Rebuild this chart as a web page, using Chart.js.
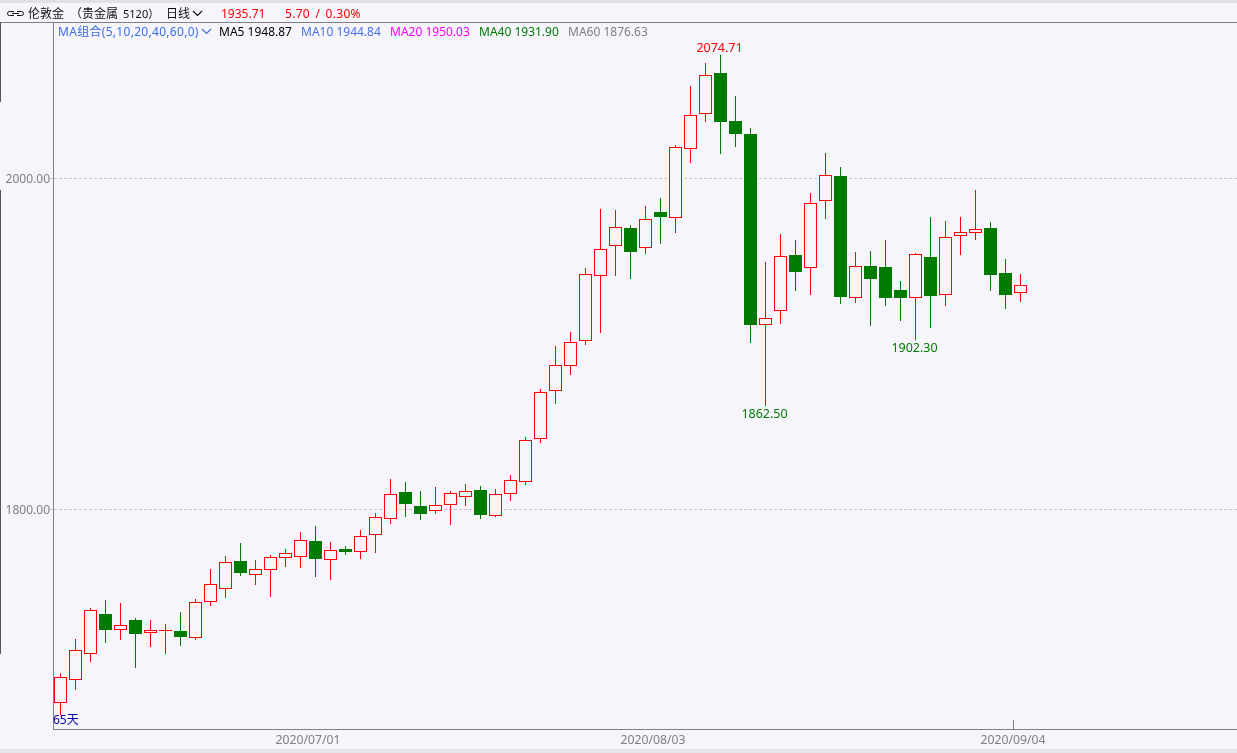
<!DOCTYPE html>
<html>
<head>
<meta charset="utf-8">
<title>伦敦金 日线</title>
<script src="https://cdn.jsdelivr.net/npm/chart.js@4/dist/chart.umd.min.js"></script>
<style>
  html, body { margin: 0; padding: 0; background: #f5f5fb; overflow: hidden; }
  #wrap { position: relative; width: 1237px; height: 753px; }
  canvas { position: absolute; left: 0; top: 0; }
  .txt { position: absolute; white-space: nowrap; font: 12px/16px "Noto Sans", "Noto Sans CJK SC", sans-serif; }
  .bar { position: absolute; }
</style>
</head>
<body>
<div id="wrap">
  <canvas id="kline" width="1237" height="753"></canvas>

  <div class="bar" style="left:0;top:0;width:1237px;height:3px;background:#e0e0e5"></div>
  <div class="bar" style="left:0;top:749px;width:1237px;height:4px;background:#e3e3e8"></div>
  <div class="bar" style="left:0;top:22px;width:1237px;height:1px;background:#808080"></div>
  <div class="bar" style="left:0;top:22px;width:1px;height:80px;background:#555"></div>
  <div class="bar" style="left:0;top:190px;width:1px;height:464px;background:#555"></div>

  <svg style="position:absolute;left:7px;top:10px" width="17" height="7" fill="none" stroke="#111" stroke-width="1">
    <path d="M7 1.5H2.5a2 2 0 0 0 0 4H7M10 1.5h4.5a2 2 0 0 1 0 4H10M5 3.5h7"/>
  </svg>
  <span class="txt" style="left:28px;top:6px;color:#111">伦敦金</span>
  <span class="txt" style="left:70px;top:6px;color:#111">（贵金属</span>
  <span class="txt" style="left:123px;top:6px;color:#111;font-size:11px">5120）</span>
  <span class="txt" style="left:166px;top:6px;color:#111">日线</span>
  <svg style="position:absolute;left:192px;top:10px" width="11" height="7" fill="none" stroke="#111" stroke-width="1.2">
    <path d="M1 1l4.5 4.5L10 1"/>
  </svg>
  <span class="txt" style="left:221px;top:6px;color:#ff0000">1935.71</span>
  <span class="txt" style="left:285px;top:6px;color:#ff0000;word-spacing:2px;letter-spacing:.3px">5.70 / 0.30%</span>

  <span class="txt" style="left:58px;top:24px;color:#3c6ee6;letter-spacing:.3px">MA组合(5,10,20,40,60,0)</span>
  <svg style="position:absolute;left:201px;top:28px" width="11" height="7" fill="none" stroke="#3c6ee6" stroke-width="1.2">
    <path d="M1 1l4.5 4.5L10 1"/>
  </svg>
  <span class="txt" style="left:219px;top:24px;color:#000">MA5 1948.87</span>
  <span class="txt" style="left:301px;top:24px;color:#4a70e8">MA10 1944.84</span>
  <span class="txt" style="left:390px;top:24px;color:#ff00ff">MA20 1950.03</span>
  <span class="txt" style="left:479px;top:24px;color:#007a00">MA40 1931.90</span>
  <span class="txt" style="left:568px;top:24px;color:#808080">MA60 1876.63</span>

  <span class="txt" style="left:53px;top:712px;color:#0000a0">65天</span>
</div>

<script>
const dates = [
  "2020/06/08","2020/06/09","2020/06/10","2020/06/11","2020/06/12","2020/06/15","2020/06/16","2020/06/17","2020/06/18","2020/06/19",
  "2020/06/22","2020/06/23","2020/06/24","2020/06/25","2020/06/26","2020/06/29","2020/06/30","2020/07/01","2020/07/02","2020/07/03",
  "2020/07/06","2020/07/07","2020/07/08","2020/07/09","2020/07/10","2020/07/13","2020/07/14","2020/07/15","2020/07/16","2020/07/17",
  "2020/07/20","2020/07/21","2020/07/22","2020/07/23","2020/07/24","2020/07/27","2020/07/28","2020/07/29","2020/07/30","2020/07/31",
  "2020/08/03","2020/08/04","2020/08/05","2020/08/06","2020/08/07","2020/08/10","2020/08/11","2020/08/12","2020/08/13","2020/08/14",
  "2020/08/17","2020/08/18","2020/08/19","2020/08/20","2020/08/21","2020/08/24","2020/08/25","2020/08/26","2020/08/27","2020/08/28",
  "2020/08/31","2020/09/01","2020/09/02","2020/09/03","2020/09/04"
];
const opens = [
  1683.08,1696.98,1712.69,1736.86,1727.19,1733.24,1725.38,1726.59,1726.59,1722.36,
  1744.11,1751.96,1768.88,1760.42,1763.44,1770.69,1771.30,1780.97,1769.49,1776.13,
  1774.32,1784.59,1794.26,1810.57,1802.11,1799.09,1802.72,1807.55,1811.78,1796.07,
  1809.36,1816.61,1842.60,1871.61,1886.71,1901.82,1941.09,1959.22,1970.09,1958.01,
  1979.76,1976.13,2017.82,2038.97,2063.74,2034.74,2026.89,1911.48,1919.94,1953.78,
  1945.92,1986.41,2001.51,1927.80,1947.13,1946.53,1932.63,1927.80,1952.57,1929.61,
  1965.26,1967.07,1970.09,1942.90,1930.82
];
const highs = [
  1701.21,1721.76,1740.49,1745.32,1743.51,1734.44,1733.24,1730.82,1738.07,1745.92,
  1764.05,1771.90,1779.76,1769.49,1772.51,1776.13,1786.40,1790.03,1780.36,1777.95,
  1787.61,1797.89,1818.43,1816.61,1811.18,1813.59,1811.18,1815.40,1814.20,1812.38,
  1820.84,1843.80,1872.81,1898.80,1907.25,1945.92,1981.57,1980.97,1971.90,1983.38,
  1988.22,2020.24,2055.89,2069.79,2074.71,2049.85,2030.51,1949.55,1966.47,1962.84,
  1991.24,2015.41,2006.94,1955.59,1956.20,1962.84,1938.07,1954.99,1976.74,1974.32,
  1976.74,1993.05,1973.72,1951.36,1942.30
];
const lows = [
  1675.83,1690.94,1707.86,1719.34,1721.15,1704.23,1716.92,1712.69,1717.53,1721.15,
  1741.69,1746.53,1759.82,1754.38,1747.13,1765.25,1764.65,1759.21,1757.40,1772.51,
  1770.09,1773.72,1791.24,1795.47,1793.66,1797.28,1790.63,1802.11,1794.26,1795.47,
  1805.14,1814.80,1840.18,1863.74,1881.27,1899.40,1906.65,1941.09,1939.28,1954.38,
  1960.42,1967.07,2009.36,2034.14,2014.80,2019.03,1900.61,1862.50,1912.09,1932.03,
  1929.61,1975.53,1924.17,1924.78,1910.88,1922.96,1913.90,1902.30,1909.67,1922.96,
  1953.78,1962.84,1932.03,1921.15,1925.38
];
const closes = [
  1698.79,1715.11,1739.28,1727.19,1730.21,1724.78,1727.19,1727.19,1722.96,1744.11,
  1754.98,1768.28,1761.63,1764.05,1771.30,1773.72,1781.57,1770.09,1775.53,1774.32,
  1783.99,1795.47,1809.36,1803.32,1797.28,1802.72,1809.97,1811.18,1796.68,1809.36,
  1817.82,1841.99,1871.00,1887.32,1901.21,1942.30,1957.40,1970.70,1955.59,1975.53,
  1976.74,2019.03,2038.37,2062.54,2034.14,2026.89,1911.48,1915.71,1953.17,1943.51,
  1985.20,2002.11,1928.40,1947.13,1939.28,1927.80,1927.80,1954.38,1929.01,1964.65,
  1967.67,1969.49,1941.69,1929.61,1935.71
];
const priceTicks = [1800, 2000];
const dateTicks = ["2020/07/01", "2020/08/03", "2020/09/04"];
const tickedDate = "2020/09/04";
const highLabels = [44];
const lowLabels = [47, 57];

const RED = "#ff0000";
const GREEN = "#007a00";
const BG = "#f5f5fb";

const isUp = (i) => closes[i] >= opens[i];
const upOrDown = (ctx) => (isUp(ctx.dataIndex) ? RED : GREEN);

// 高低点数字 + 09/04 那根小刻度
const extras = {
  id: "extras",
  afterDatasetsDraw(chart) {
    const { ctx, scales, chartArea } = chart;
    const { x, y } = scales;
    ctx.save();
    ctx.font = '12.5px "Noto Sans", sans-serif';
    ctx.textAlign = "center";
    ctx.textBaseline = "middle";
    highLabels.forEach((i) => {
      ctx.fillStyle = RED;
      ctx.fillText(highs[i].toFixed(2), x.getPixelForValue(i) - 1, y.getPixelForValue(highs[i]) - 6.5);
    });
    lowLabels.forEach((i) => {
      ctx.fillStyle = GREEN;
      ctx.fillText(lows[i].toFixed(2), x.getPixelForValue(i) - 1, y.getPixelForValue(lows[i]) + 8);
    });
    const tx = Math.round(x.getPixelForValue(dates.indexOf(tickedDate) - 0.5)) + 0.5;
    ctx.strokeStyle = "#808080";
    ctx.lineWidth = 1;
    ctx.beginPath();
    ctx.moveTo(tx, chartArea.bottom - 9);
    ctx.lineTo(tx, chartArea.bottom);
    ctx.stroke();
    ctx.restore();
  },
};

new Chart(document.getElementById("kline"), {
  type: "bar",
  plugins: [extras],
  data: {
    datasets: [
      {
        // 实体在前面，盖住影线
        label: "body",
        data: dates.map((d, i) => ({ x: i, y: [opens[i], closes[i]] })),
        barThickness: 13,
        borderWidth: 1,
        borderSkipped: false,
        borderColor: upOrDown,
        backgroundColor: (ctx) => (isUp(ctx.dataIndex) ? BG : GREEN),
      },
      {
        label: "wick",
        data: dates.map((d, i) => ({ x: i, y: [lows[i], highs[i]] })),
        barThickness: 1,
        borderWidth: 0,
        backgroundColor: upOrDown,
      },
    ],
  },
  options: {
    responsive: false,
    animation: false,
    devicePixelRatio: 1,
    grouped: false,
    inflateAmount: 0,
    layout: { padding: { top: 22, left: 0, right: 0, bottom: 0 } },
    plugins: { legend: { display: false }, tooltip: { enabled: false } },
    scales: {
      x: {
        type: "linear",
        offset: false,
        min: -0.5,
        max: 78.4333,
        grid: { display: false, drawTicks: false },
        border: { display: true, color: "#808080" },
        afterFit: (s) => { s.height = 24; },
        afterBuildTicks: (s) => {
          s.ticks = dateTicks.map((d) => ({ value: dates.indexOf(d) - 0.5 }));
        },
        ticks: {
          autoSkip: false,
          maxRotation: 0,
          padding: 4,
          color: "#808080",
          font: { family: '"Noto Sans", sans-serif', size: 12.2 },
          callback: (v) => dates[v + 0.5],
        },
      },
      y: {
        position: "left",
        min: 1667.37,
        max: 2094.56,
        afterFit: (s) => { s.width = 53; },
        afterBuildTicks: (s) => {
          s.ticks = priceTicks.map((v) => ({ value: v }));
        },
        grid: { color: "#c8c8c8", tickLength: 3, tickColor: "#c8c8c8" },
        border: { display: true, color: "#808080", dash: [3, 2] },
        ticks: {
          padding: 0,
          labelOffset: 1,
          color: "#808080",
          font: { family: '"Noto Sans", sans-serif', size: 12 },
          callback: (v) => v.toFixed(2),
        },
      },
    },
  },
});
</script>
</body>
</html>
